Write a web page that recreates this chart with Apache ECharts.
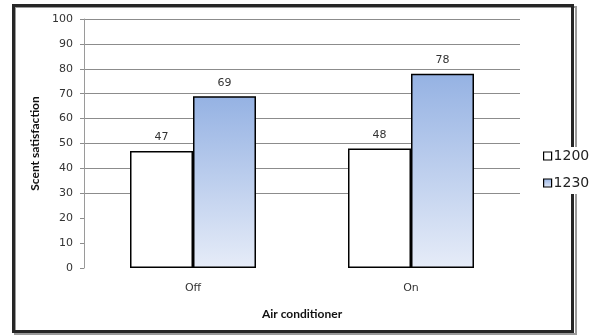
<!DOCTYPE html>
<html>
<head>
<meta charset="utf-8">
<script src="https://cdn.jsdelivr.net/npm/echarts@6/dist/echarts.min.js"></script>
<style>
  html, body { margin: 0; padding: 0; background: #fff; }
  #chart { width: 603px; height: 335px; }
</style>
</head>
<body>
<div id="chart"></div>
<script>
// Scent satisfaction by air-conditioner state, two time slots
const categories = ['Off', 'On'];
const seriesNames = ['1200', '1230'];
const values1200 = [47, 48];
const values1230 = [69, 78];
const yTicks = [0, 10, 20, 30, 40, 50, 60, 70, 80, 90, 100];

const blueFill = new echarts.graphic.LinearGradient(0, 0, 0, 1, [
  { offset: 0, color: '#95b2e3' },
  { offset: 1, color: '#e6ecf8' }
]);

const chart = echarts.init(document.getElementById('chart'), null, { renderer: 'canvas' });

// first three grid lines (0, 10, 20) are left blank
const gridColors = yTicks.map(v => (v <= 20 ? 'rgba(0,0,0,0)' : '#8c8c8c'));

const labelFont = { fontFamily: 'DejaVu Sans', fontSize: 11, color: '#333' };

chart.setOption({
  animation: false,
  backgroundColor: '#fff',
  textStyle: { fontFamily: 'DejaVu Sans' },
  graphic: [
    { type: 'rect', z: -2, shape: { x: 15, y: 7, width: 561, height: 327 },
      style: { fill: 'none', stroke: '#9a9a9a', lineWidth: 2 } },
    { type: 'rect', z: -1, shape: { x: 13.5, y: 5.5, width: 559, height: 326 },
      style: { fill: 'none', stroke: '#262626', lineWidth: 3 } }
  ],
  grid: { left: 84, right: 83, top: 19, bottom: 67 },
  legend: {
    orient: 'vertical',
    left: 539,
    top: 147,
    padding: [2, 6, 4, 4],
    backgroundColor: '#fff',
    icon: 'rect',
    itemWidth: 8,
    itemHeight: 8,
    itemGap: 13,
    itemStyle: { borderColor: '#000', borderWidth: 1.2 },
    textStyle: { fontFamily: 'DejaVu Sans', fontSize: 14, color: '#222', padding: [0, 0, 0, -3] },
    data: seriesNames
  },
  xAxis: {
    type: 'category',
    data: categories,
    name: 'Air conditioner',
    nameLocation: 'middle',
    nameGap: 40,
    nameTextStyle: { fontFamily: 'Lato', fontWeight: 'bold', fontSize: 12, color: '#111' },
    axisLine: { show: false },
    axisTick: { show: false },
    axisLabel: Object.assign({ margin: 15 }, labelFont)
  },
  yAxis: {
    type: 'value',
    min: 0,
    max: 100,
    interval: 10,
    name: 'Scent satisfaction',
    nameLocation: 'middle',
    nameGap: 39,
    nameTextStyle: { fontFamily: 'Lato', fontWeight: 'bold', fontSize: 12, color: '#111' },
    axisLine: { show: true, lineStyle: { color: '#9a9a9a', width: 1 } },
    axisTick: { show: true, length: 4, lineStyle: { color: '#8c8c8c' } },
    axisLabel: Object.assign({ margin: 11 }, labelFont),
    splitLine: { show: true, lineStyle: { color: gridColors, width: 1 } }
  },
  series: [
    {
      name: seriesNames[0],
      type: 'bar',
      data: values1200,
      barWidth: 63,
      barGap: '0%',
      itemStyle: { color: '#fff', borderColor: '#000', borderWidth: 1.5 },
      label: Object.assign({ show: true, position: 'top', distance: 8 }, labelFont)
    },
    {
      name: seriesNames[1],
      type: 'bar',
      data: values1230,
      barWidth: 63,
      barGap: '0%',
      itemStyle: { color: blueFill, borderColor: '#000', borderWidth: 1.5 },
      label: Object.assign({ show: true, position: 'top', distance: 8 }, labelFont)
    }
  ]
});
</script>
</body>
</html>
